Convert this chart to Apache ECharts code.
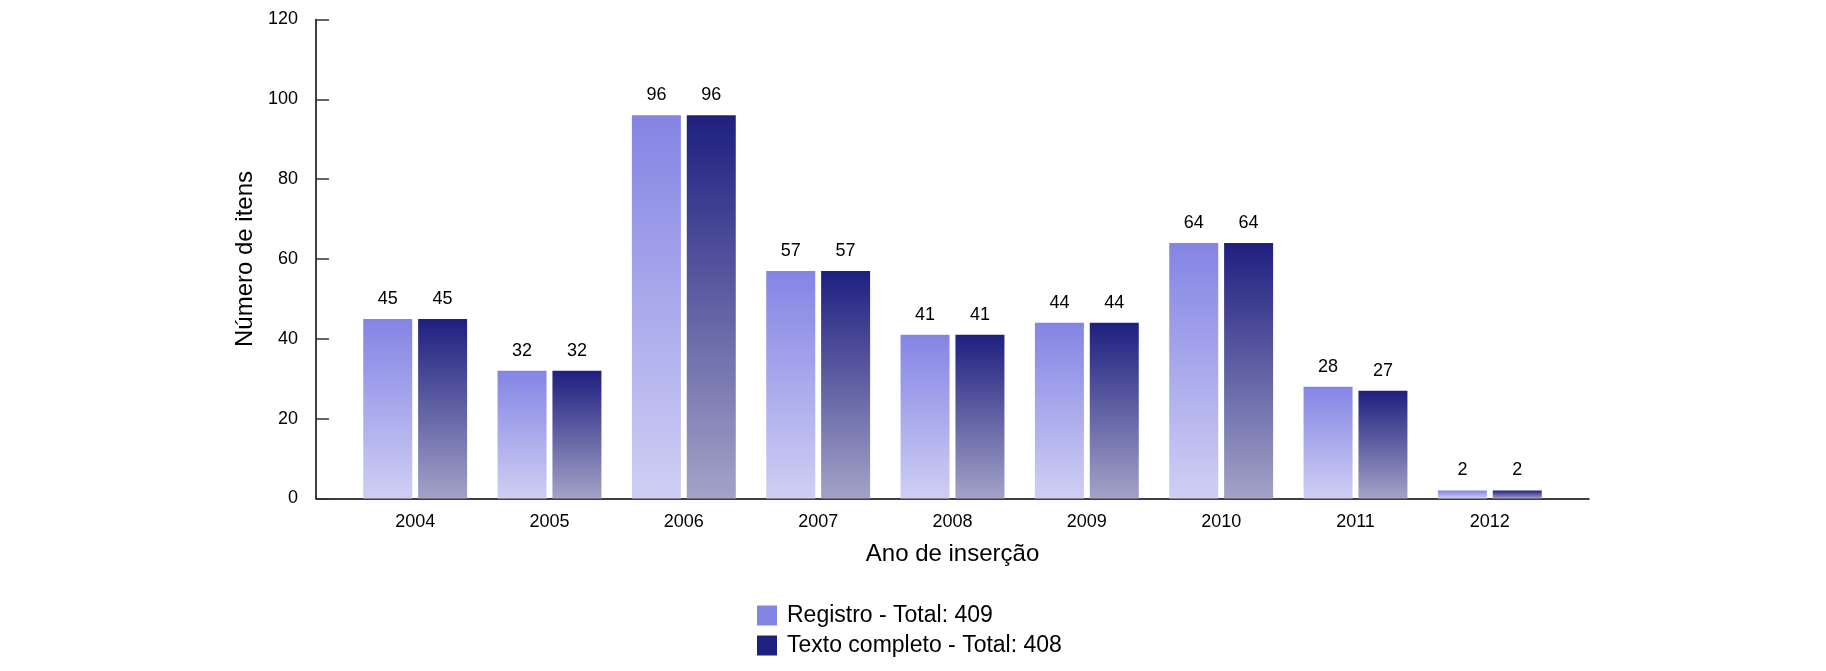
<!DOCTYPE html>
<html>
<head>
<meta charset="utf-8">
<script src="https://cdn.jsdelivr.net/npm/echarts@6/dist/echarts.min.js"></script>
<style>
html,body{margin:0;padding:0;background:#fff;}
#chart{width:1826px;height:671px;}
</style>
</head>
<body>
<div id="chart"></div>
<script>
const years = ['2004','2005','2006','2007','2008','2009','2010','2011','2012'];
const registro = [45, 32, 96, 57, 41, 44, 64, 28, 2];
const textoCompleto = [45, 32, 96, 57, 41, 44, 64, 27, 2];
const seriesNames = ['Registro - Total: 409', 'Texto completo - Total: 408'];
const yTicks = [0, 20, 40, 60, 80, 100, 120];

const FONT = '"Liberation Sans", Arial, Helvetica, sans-serif';

function grad(top, bottom) {
  return new echarts.graphic.LinearGradient(0, 0, 0, 1, [
    { offset: 0, color: top },
    { offset: 1, color: bottom }
  ]);
}

const chart = echarts.init(document.getElementById('chart'));
const gTop = 19.5, gBottom = 671 - 498.5;

chart.setOption({
  animation: false,
  backgroundColor: '#fff',
  textStyle: { fontFamily: FONT },
  grid: [
    { left: 316, right: 1826 - 1589, top: gTop, bottom: gBottom },
    { left: 348, right: 1826 - 1557, top: gTop, bottom: gBottom }
  ],
  xAxis: [
    {
      gridIndex: 0, type: 'value', min: 0, max: 1,
      axisLine: { show: true, lineStyle: { color: '#000', width: 1.5 } },
      axisTick: { show: false }, axisLabel: { show: false }, splitLine: { show: false },
      name: 'Ano de inserção', nameLocation: 'middle', nameGap: 44,
      nameTextStyle: { fontSize: 24, color: '#000', fontFamily: FONT }
    },
    {
      gridIndex: 1, type: 'category', data: years,
      axisLine: { show: false }, axisTick: { show: false },
      axisLabel: { fontSize: 18, color: '#000', margin: 15, fontFamily: FONT }
    }
  ],
  yAxis: [
    {
      gridIndex: 0, type: 'value', min: 0, max: 120, interval: 20,
      axisLine: { show: true, lineStyle: { color: '#000', width: 1.5 } },
      axisTick: { show: true, inside: true, length: 13, lineStyle: { color: '#333', width: 1.5 } },
      axisLabel: { fontSize: 18, color: '#000', margin: 18, fontFamily: FONT,
        formatter: v => yTicks.includes(v) ? String(v) : '' },
      splitLine: { show: false },
      name: 'Número de itens', nameLocation: 'middle', nameGap: 54, nameRotate: 90,
      nameTextStyle: { fontSize: 24, color: '#000', fontFamily: FONT }
    },
    {
      gridIndex: 1, type: 'value', min: 0, max: 120, show: false
    }
  ],
  legend: {
    orient: 'vertical', left: 757, top: 604, padding: 0,
    itemWidth: 20, itemHeight: 20, itemGap: 7,
    icon: 'rect',
    textStyle: { fontSize: 23, color: '#000', fontFamily: FONT, padding: [0, 0, 0, 5] },
    data: [
      { name: seriesNames[0], itemStyle: { color: '#8484e4' } },
      { name: seriesNames[1], itemStyle: { color: '#20207f' } }
    ]
  },
  series: [
    {
      name: seriesNames[0], type: 'bar', xAxisIndex: 1, yAxisIndex: 1,
      data: registro, barWidth: 49, barGap: '12%',
      itemStyle: { color: grad('#8484e4', '#cfcff4') },
      label: { show: true, position: 'top', distance: 11, fontSize: 18, color: '#000', fontFamily: FONT }
    },
    {
      name: seriesNames[1], type: 'bar', xAxisIndex: 1, yAxisIndex: 1,
      data: textoCompleto, barWidth: 49, barGap: '12%',
      itemStyle: { color: grad('#1f1f80', '#a3a3c8') },
      label: { show: true, position: 'top', distance: 11, fontSize: 18, color: '#000', fontFamily: FONT }
    }
  ]
});
</script>
</body>
</html>
